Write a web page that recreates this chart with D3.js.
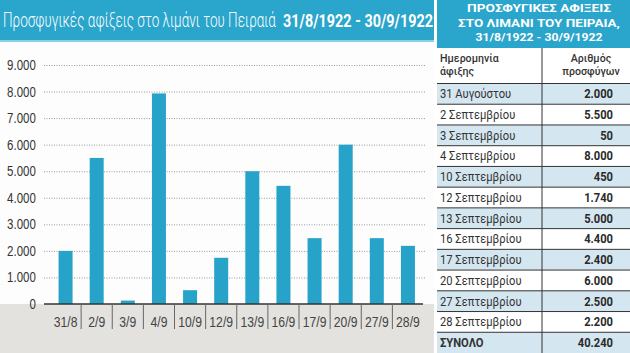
<!DOCTYPE html>
<html>
<head>
<meta charset="utf-8">
<script src="https://cdn.jsdelivr.net/npm/d3@7"></script>
<style>
  body { margin: 0; background: #fff; }
  svg { display: block; font-family: Roboto, "Noto Sans", sans-serif; }
</style>
</head>
<body>
<div id="chart"></div>
<script>
// chart data
const dates = ["31/8", "2/9", "3/9", "4/9", "10/9", "12/9", "13/9", "16/9", "17/9", "20/9", "27/9", "28/9"];
const arrivals = [2000, 5500, 130, 7930, 520, 1740, 5000, 4450, 2480, 6000, 2480, 2190];
const yTicks = [0, 1000, 2000, 3000, 4000, 5000, 6000, 7000, 8000, 9000];

// table data
const tableDates = ["31 Αυγούστου", "2 Σεπτεμβρίου", "3 Σεπτεμβρίου", "4 Σεπτεμβρίου", "10 Σεπτεμβρίου",
    "12 Σεπτεμβρίου", "13 Σεπτεμβρίου", "16 Σεπτεμβρίου", "17 Σεπτεμβρίου", "20 Σεπτεμβρίου",
    "27 Σεπτεμβρίου", "28 Σεπτεμβρίου"];
const tableValues = [2000, 5500, 50, 8000, 450, 1740, 5000, 4400, 2400, 6000, 2500, 2200];
const totalLabel = "ΣΥΝΟΛΟ";

const chartTitle = ["Προσφυγικές αφίξεις στο λιμάνι του Πειραιά", "31/8/1922 - 30/9/1922"];
const tableTitle = ["ΠΡΟΣΦΥΓΙΚΕΣ ΑΦΙΞΕΙΣ", "ΣΤΟ ΛΙΜΑΝΙ ΤΟΥ ΠΕΙΡΑΙΑ,", "31/8/1922 - 30/9/1922"];
const colHeads = [["Ημερομηνία", "άφιξης"], ["Αριθμός", "προσφύγων"]];

const blue = "#2aa5cb";
const barBlue = "#27a3c9";
const rowBlue = "#d4e6f0";

const el = d3.formatLocale({decimal: ",", thousands: ".", grouping: [3], currency: ["", "€"]});
const fmt = el.format(",d");

const width = 630, height = 353;
const svg = d3.select("#chart").append("svg")
    .attr("width", width)
    .attr("height", height);

// squeeze a text horizontally to a given width (anchor: start / middle)
function fitText(sel, px, py, w) {
    const natural = sel.node().getComputedTextLength();
    sel.attr("transform", `translate(${px},${py}) scale(${w / natural},1)`);
}

// ---- left panel ----
const left = svg.append("g");

left.append("rect").attr("x", 0).attr("y", 0).attr("width", 434).attr("height", height).attr("fill", "#fdfdfd");
left.append("rect").attr("x", 0).attr("y", 304).attr("width", 434).attr("height", 49).attr("fill", "#e3e2de");
left.append("rect").attr("x", 0).attr("y", 0).attr("width", 434).attr("height", 40).attr("fill", blue);
left.append("rect").attr("x", 0).attr("y", 40).attr("width", 434).attr("height", 2).attr("fill", "#8dd0e6");

left.append("text")
    .attr("font-size", 20).attr("font-weight", 300).attr("fill", "#fff")
    .text(chartTitle[0])
    .call(fitText, 3, 27, 273);
left.append("text")
    .attr("font-size", 19).attr("font-weight", 700).attr("fill", "#fff")
    .text(chartTitle[1])
    .call(fitText, 283, 27, 150);

const x = d3.scaleBand()
    .domain(dates)
    .range([50, 423.5])
    .paddingInner(0.55)
    .paddingOuter(0.275);

const y = d3.scaleLinear()
    .domain([0, 9000])
    .range([304, 65]);

// y axis + dotted grid
const yAxis = left.append("g")
    .attr("transform", "translate(44,0)")
    .call(d3.axisLeft(y).tickValues(yTicks).tickFormat(fmt).tickSize(-381).tickPadding(10));
yAxis.select(".domain").remove();
yAxis.selectAll(".tick line")
    .attr("stroke", "#9a9a9a")
    .attr("stroke-dasharray", "1,1.5")
    .filter(d => d === 0).remove();
yAxis.selectAll(".tick text")
    .attr("font-size", 14).attr("font-weight", 500).attr("fill", "#333")
    .attr("transform", "scale(0.82,1)");

// bars
left.selectAll("rect.bar")
    .data(arrivals)
    .join("rect")
    .attr("class", "bar")
    .attr("x", (d, i) => x(dates[i]))
    .attr("y", d => y(d))
    .attr("width", x.bandwidth())
    .attr("height", d => y(0) - y(d))
    .attr("fill", barBlue);

// baseline
left.append("line")
    .attr("x1", 44).attr("x2", 423)
    .attr("y1", y(0)).attr("y2", y(0))
    .attr("stroke", "#333").attr("stroke-width", 1.5);

// separators between categories
left.selectAll("line.sep")
    .data(dates.slice(1))
    .join("line")
    .attr("class", "sep")
    .attr("x1", d => x(d) - x.step() * x.paddingInner() / 2)
    .attr("x2", d => x(d) - x.step() * x.paddingInner() / 2)
    .attr("y1", y(0)).attr("y2", y(0) + 25)
    .attr("stroke", "#666").attr("stroke-width", 1);

// x labels
const xAxis = left.append("g")
    .attr("transform", `translate(0,${y(0)})`)
    .call(d3.axisBottom(x).tickSize(0).tickPadding(13));
xAxis.select(".domain").remove();
xAxis.selectAll(".tick text")
    .attr("font-size", 14.5).attr("fill", "#444")
    .attr("transform", "scale(0.84,1)");

// ---- right table ----
const tx0 = 437, tx1 = 630, divX = 542;
const table = svg.append("g");

table.append("rect").attr("x", tx0).attr("y", 0).attr("width", tx1 - tx0).attr("height", 48).attr("fill", blue);
tableTitle.forEach(function(t, i) {
    table.append("text")
        .attr("text-anchor", "middle")
        .attr("font-size", 11.5).attr("font-weight", 700).attr("fill", "#fff")
        .text(t)
        .call(fitText, 539, 12 + i * 14.5, [144, 162, 127][i]);
});

table.append("rect").attr("x", tx0).attr("y", 48).attr("width", tx1 - tx0).attr("height", 36).attr("fill", "#fff");

const rowLabels = tableDates.concat([totalLabel]);
const rowValues = tableValues.concat([d3.sum(tableValues)]);

const r = d3.scaleBand()
    .domain(d3.range(rowLabels.length))
    .range([83.5, 353]);

const rows = table.selectAll("g.row")
    .data(rowLabels)
    .join("g")
    .attr("class", "row")
    .attr("transform", (d, i) => `translate(0,${r(i)})`);

rows.append("rect")
    .attr("x", tx0).attr("y", 0)
    .attr("width", tx1 - tx0).attr("height", r.bandwidth())
    .attr("fill", (d, i) => i % 2 === 0 ? rowBlue : "#fff");

rows.append("line")
    .attr("x1", tx0).attr("x2", tx1)
    .attr("y1", 0).attr("y2", 0)
    .attr("stroke", "#333").attr("stroke-width", 1);

rows.append("text")
    .attr("transform", "translate(440,14.8) scale(0.86,1)")
    .attr("font-size", 13)
    .attr("font-weight", (d, i) => i === rowLabels.length - 1 ? 700 : 400)
    .attr("fill", "#333")
    .text(d => d);

rows.append("text")
    .attr("transform", "translate(613,14.8) scale(0.86,1)")
    .attr("text-anchor", "end")
    .attr("font-size", 13).attr("font-weight", 700)
    .attr("fill", "#2a2a2a")
    .text((d, i) => fmt(rowValues[i]));

// column headers
colHeads.forEach(function(lines, c) {
    lines.forEach(function(t, k) {
        table.append("text")
            .attr("transform", `translate(${c === 0 ? 440 : 591},${62 + k * 13}) scale(0.93,1)`)
            .attr("text-anchor", c === 0 ? "start" : "middle")
            .attr("font-size", 11.4).attr("font-weight", 500)
            .attr("fill", "#333")
            .text(t);
    });
});

table.append("line")
    .attr("x1", divX).attr("x2", divX)
    .attr("y1", 48).attr("y2", 353)
    .attr("stroke", "#333").attr("stroke-width", 1);
</script>
</body>
</html>
